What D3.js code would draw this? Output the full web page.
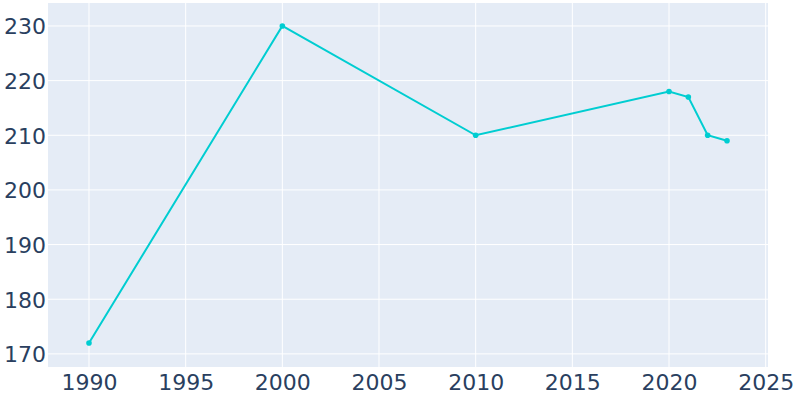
<!DOCTYPE html>
<html>
<head>
<meta charset="utf-8">
<script src="https://cdn.jsdelivr.net/npm/d3@7"></script>
<style>
  body { margin: 0; background: #fff; }
  svg { display: block; font-family: "DejaVu Sans", sans-serif; }
</style>
</head>
<body>
<div id="chart"></div>
<script>
'use strict';

var years = [1990, 2000, 2010, 2020, 2021, 2022, 2023],
    population = [172, 230, 210, 218, 217, 210, 209],
    xTicks = [1990, 1995, 2000, 2005, 2010, 2015, 2020, 2025],
    yTicks = [170, 180, 190, 200, 210, 220, 230];

var width = 800,
    height = 400,
    plotLeft = 48,
    plotRight = 768,
    plotTop = 3,
    plotBottom = 367;

var svg = d3.select('#chart').append('svg')
    .attr('width', width)
    .attr('height', height);

var x = d3.scaleLinear()
    .domain([1987.88, 2025.12])
    .range([plotLeft, plotRight]);

var y = d3.scaleLinear()
    .domain([167.6, 234.2])
    .range([plotBottom, plotTop]);

// plot background
svg.append('rect')
    .attr('x', plotLeft)
    .attr('y', plotTop)
    .attr('width', plotRight - plotLeft)
    .attr('height', plotBottom - plotTop)
    .attr('fill', '#E5ECF6');

// grid lines
svg.append('g')
    .selectAll('line')
    .data(xTicks)
    .join('line')
    .attr('x1', function (d) { return x(d); })
    .attr('x2', function (d) { return x(d); })
    .attr('y1', plotTop)
    .attr('y2', plotBottom)
    .attr('stroke', '#fff')
    .attr('stroke-width', 1);

svg.append('g')
    .selectAll('line')
    .data(yTicks)
    .join('line')
    .attr('x1', plotLeft)
    .attr('x2', plotRight)
    .attr('y1', function (d) { return y(d); })
    .attr('y2', function (d) { return y(d); })
    .attr('stroke', '#fff')
    .attr('stroke-width', 1);

// axes, labels only
var xAxis = svg.append('g')
    .attr('transform', 'translate(0,' + plotBottom + ')')
    .call(d3.axisBottom(x).tickValues(xTicks).tickFormat(d3.format('d'))
        .tickSize(0));
xAxis.selectAll('text')
    .attr('y', 23)
    .attr('dy', 0);

var yAxis = svg.append('g')
    .attr('transform', 'translate(' + plotLeft + ',0)')
    .call(d3.axisLeft(y).tickValues(yTicks).tickSize(0).tickPadding(2));
yAxis.selectAll('text')
    .attr('dy', '0.36em');

[xAxis, yAxis].forEach(function (axis) {
  axis.select('.domain').remove();
  axis.selectAll('text')
      .attr('fill', '#2a3f5f')
      .style('font-family', '"DejaVu Sans", sans-serif')
      .style('font-size', '22px');
});

// line
var line = d3.line()
    .x(function (d, i) { return x(years[i]); })
    .y(function (d) { return y(d); });

svg.append('path')
    .datum(population)
    .attr('d', line)
    .attr('fill', 'none')
    .attr('stroke', '#00CDD1')
    .attr('stroke-width', 2);

svg.append('g')
    .selectAll('circle')
    .data(population)
    .join('circle')
    .attr('cx', function (d, i) { return x(years[i]); })
    .attr('cy', function (d) { return y(d); })
    .attr('r', 2.8)
    .attr('fill', '#00CDD1');
</script>
</body>
</html>
